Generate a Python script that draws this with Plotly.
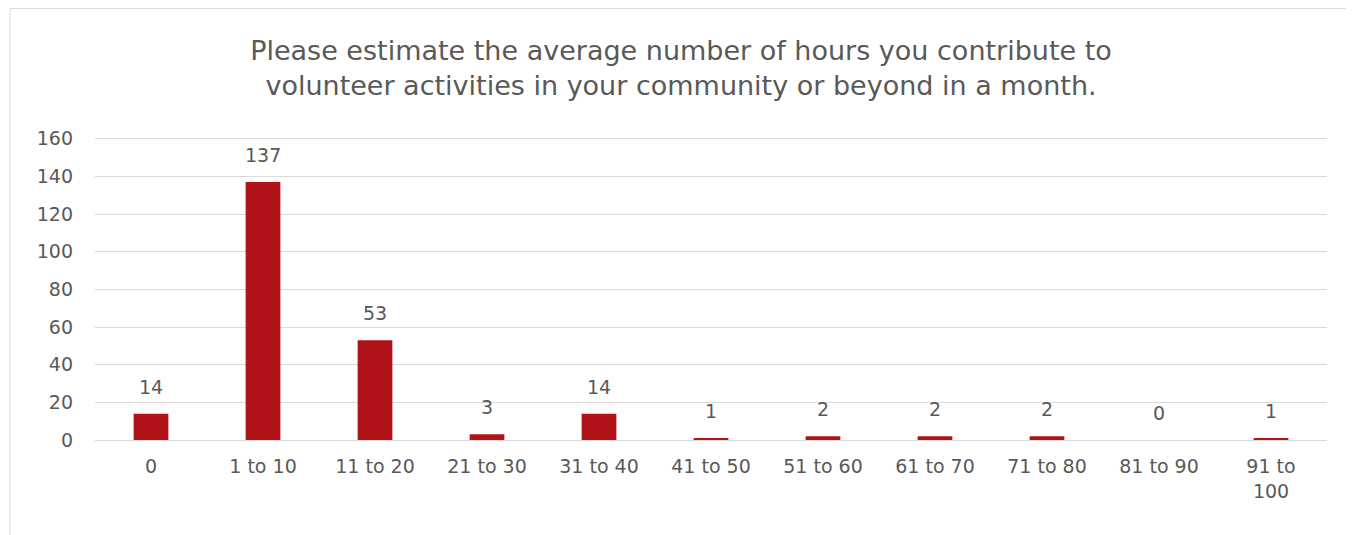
import plotly.graph_objects as go

categories = ["0", "1 to 10", "11 to 20", "21 to 30", "31 to 40", "41 to 50",
              "51 to 60", "61 to 70", "71 to 80", "81 to 90", "91 to<br>100"]
counts = [14, 137, 53, 3, 14, 1, 2, 2, 2, 0, 1]
y_ticks = [0, 20, 40, 60, 80, 100, 120, 140, 160]

FONT = "'DejaVu Sans', sans-serif"
GREY = "#595959"

fig = go.Figure(go.Bar(
    x=categories, y=counts,
    marker=dict(color="#B01419", line=dict(width=0)),
))

for c, v in zip(categories, counts):
    fig.add_annotation(x=c, y=v, text=str(v), showarrow=False,
                       yanchor="middle", yshift=27,
                       font=dict(family=FONT, size=19, color=GREY))

H = 527
fig.update_layout(
    width=1346, height=H,
    margin=dict(l=87, r=27, t=127, b=95),
    paper_bgcolor="white", plot_bgcolor="white",
    bargap=0.69,
    showlegend=False,
    title=dict(
        text="Please estimate the average number of hours you contribute to<br>volunteer activities in your community or beyond in a month.",
        x=0.5, xanchor="center", y=1 - (60 - 8) / H, yanchor="middle",
        font=dict(family=FONT, size=27, color=GREY),
    ),
    xaxis=dict(
        tickfont=dict(family=FONT, size=19, color=GREY),
        showgrid=False, showline=False, ticks="", ticklabelstandoff=13,
    ),
    yaxis=dict(
        range=[0, 162], tickvals=y_ticks,
        tickfont=dict(family=FONT, size=19, color=GREY),
        showgrid=True, gridcolor="#D9D9D9", gridwidth=1,
        zeroline=True, zerolinecolor="#D9D9D9", zerolinewidth=1,
        showline=False, ticks="", ticklabelstandoff=21,
    ),
    shapes=[dict(type="rect", xref="paper", yref="paper",
                 x0=-85/1232, x1=1.2, y0=-0.4, y1=1 + 126.5/304.8,
                 line=dict(color="#D9D9D9", width=1), fillcolor="rgba(0,0,0,0)", layer="below")],
)

fig.write_html("out.html")
